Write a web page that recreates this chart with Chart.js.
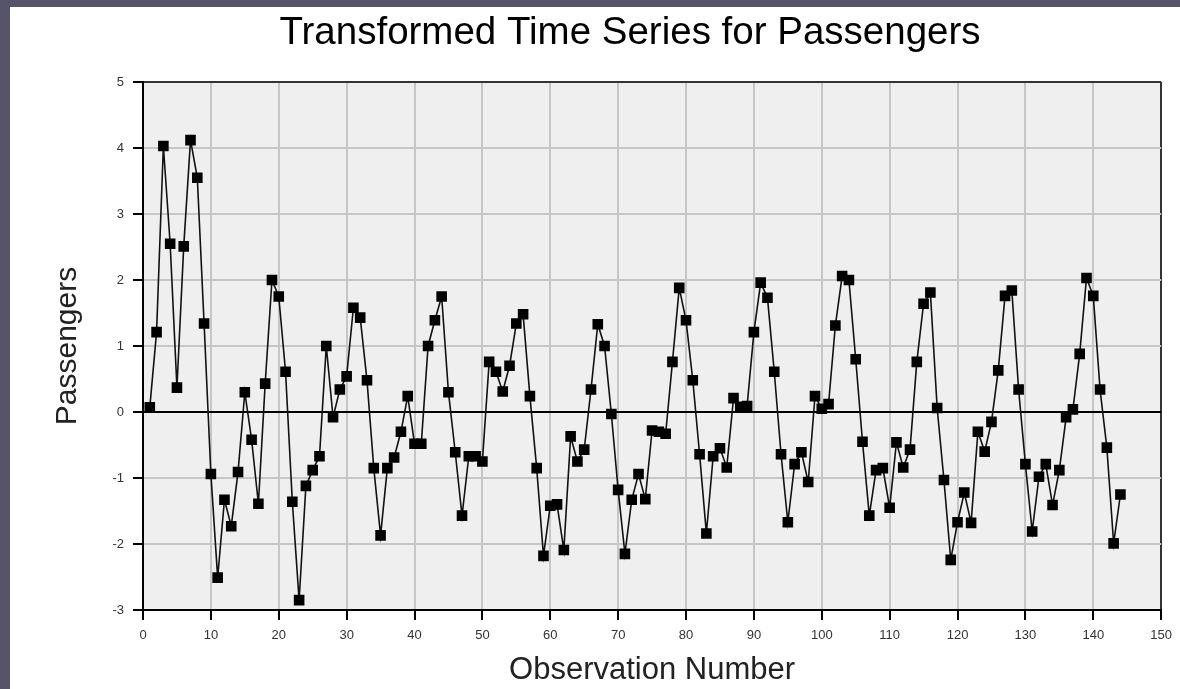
<!DOCTYPE html>
<html>
<head>
<meta charset="utf-8">
<script src="https://cdn.jsdelivr.net/npm/chart.js@4.4.1/dist/chart.umd.min.js"></script>
<style>
  html, body { margin: 0; padding: 0; }
  body { width: 1180px; height: 689px; background: #55546b; position: relative; overflow: hidden; }
  #frame { position: absolute; left: 10px; top: 7px; width: 1170px; height: 682px; background: #ffffff; }
  canvas { display: block; }
</style>
</head>
<body>
<div id="frame"><canvas id="c" width="1170" height="682"></canvas></div>
<script>
const chartTitle = 'Transformed Time Series for Passengers';
const xAxisTitle = 'Observation Number';
const yAxisTitle = 'Passengers';
const xTickMin = 0, xTickMax = 150, xTickStep = 10;
const yTickMin = -3, yTickMax = 5, yTickStep = 1;

const passengers = [
  0.07, 1.21, 4.03, 2.55, 0.37, 2.51, 4.12, 3.55, 1.34, -0.94,
  -2.51, -1.33, -1.73, -0.91, 0.30, -0.42, -1.39, 0.43, 2.00, 1.75,
  0.61, -1.36, -2.85, -1.12, -0.88, -0.67, 1.00, -0.08, 0.34, 0.54,
  1.58, 1.43, 0.48, -0.85, -1.87, -0.85, -0.69, -0.30, 0.24, -0.48,
  -0.48, 1.00, 1.39, 1.75, 0.30, -0.61, -1.57, -0.67, -0.67, -0.75,
  0.76, 0.61, 0.31, 0.70, 1.34, 1.48, 0.24, -0.85, -2.18, -1.42,
  -1.40, -2.09, -0.37, -0.75, -0.57, 0.34, 1.33, 1.00, -0.03, -1.18,
  -2.15, -1.33, -0.94, -1.32, -0.28, -0.30, -0.33, 0.76, 1.88, 1.39,
  0.48, -0.64, -1.84, -0.67, -0.55, -0.84, 0.21, 0.08, 0.09, 1.21,
  1.96, 1.73, 0.61, -0.64, -1.67, -0.79, -0.61, -1.06, 0.24, 0.05,
  0.12, 1.31, 2.06, 2.00, 0.80, -0.45, -1.57, -0.88, -0.85, -1.45,
  -0.46, -0.84, -0.57, 0.76, 1.64, 1.81, 0.06, -1.03, -2.24, -1.67,
  -1.22, -1.68, -0.30, -0.60, -0.15, 0.63, 1.76, 1.84, 0.34, -0.79,
  -1.81, -0.98, -0.79, -1.41, -0.88, -0.08, 0.04, 0.88, 2.03, 1.76,
  0.34, -0.54, -1.99, -1.25
];
// observation numbers are 1..N (category index)
const observations = passengers.map((v, i) => i + 1);

const points = observations.map((obs, i) => ({ x: obs, y: passengers[i] }));

const plotBackground = {
  id: 'plotBackground',
  beforeDraw(chart) {
    const { ctx, chartArea: a } = chart;
    ctx.save();
    ctx.fillStyle = '#efefef';
    ctx.fillRect(a.left, a.top, a.right - a.left, a.bottom - a.top);
    ctx.restore();
  }
};

const plotTitle = {
  id: 'plotTitle',
  afterDraw(chart) {
    const ctx = chart.ctx;
    ctx.save();
    ctx.font = '38.5px "Liberation Sans", Arial, sans-serif';
    ctx.fillStyle = '#000000';
    ctx.textAlign = 'center';
    ctx.textBaseline = 'alphabetic';
    ctx.fillText(chartTitle, 620, 37);
    ctx.restore();
  }
};

new Chart(document.getElementById('c'), {
  type: 'line',
  data: {
    datasets: [{
      data: points,
      borderColor: '#111111',
      borderWidth: 1.6,
      backgroundColor: '#000000',
      pointStyle: 'rect',
      pointRadius: 7.5,
      pointHoverRadius: 7.5,
      pointBorderWidth: 0,
      pointBackgroundColor: '#000000',
      tension: 0,
      fill: false
    }]
  },
  options: {
    responsive: false,
    animation: false,
    devicePixelRatio: 1,
    layout: { padding: { top: 75, right: 17, bottom: 0, left: 0 } },
    plugins: {
      legend: { display: false },
      tooltip: { enabled: false },
      title: { display: false }
    },
    scales: {
      x: {
        type: 'linear',
        position: 'bottom',
        min: xTickMin,
        max: xTickMax,
        afterFit: (s) => { s.height = 79; },
        ticks: {
          stepSize: xTickStep,
          padding: 8,
          color: '#333333',
          font: { family: '"Liberation Sans Narrow", "Liberation Sans", Arial, sans-serif', size: 13 },
          maxRotation: 0,
          autoSkip: false
        },
        grid: {
          color: (c) => (c.tick && c.tick.value === xTickMax) ? '#333333' : '#c6c6c6',
          lineWidth: 2,
          tickLength: 10,
          tickColor: '#000000',
          drawOnChartArea: true
        },
        border: { color: '#000000', width: 2 },
        title: {
          display: true,
          text: xAxisTitle,
          color: '#222222',
          font: { family: '"Liberation Sans", Arial, sans-serif', size: 31, weight: 'normal' },
          padding: { top: 16, bottom: 0 }
        }
      },
      y: {
        type: 'linear',
        min: yTickMin,
        max: yTickMax,
        afterFit: (s) => { s.width = 133; },
        ticks: {
          stepSize: yTickStep,
          padding: 9,
          color: '#333333',
          font: { family: '"Liberation Sans", Arial, sans-serif', size: 13 }
        },
        grid: {
          color: (c) => {
            if (!c.tick) return '#c6c6c6';
            if (c.tick.value === 0) return '#000000';
            if (c.tick.value === yTickMax) return '#333333';
            return '#c6c6c6';
          },
          lineWidth: 2,
          tickLength: 10,
          tickColor: '#000000'
        },
        border: { color: '#000000', width: 2 },
        title: {
          display: true,
          text: yAxisTitle,
          color: '#222222',
          font: { family: '"Liberation Sans", Arial, sans-serif', size: 30, weight: 'normal' },
          padding: { top: 40, bottom: 0 }
        }
      }
    }
  },
  plugins: [plotBackground, plotTitle]
});
</script>
</body>
</html>
